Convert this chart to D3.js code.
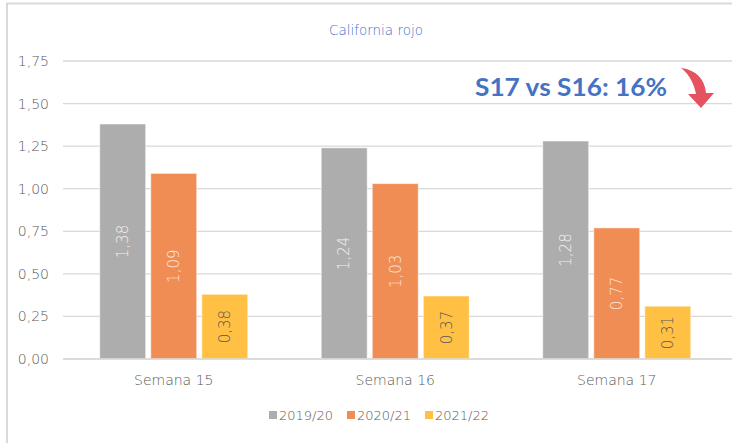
<!DOCTYPE html>
<html>
<head>
<meta charset="utf-8">
<script src="https://cdn.jsdelivr.net/npm/d3@7"></script>
<style>
  body { margin: 0; background: #fff; }
  svg { font-family: 'DejaVu Sans', sans-serif; font-weight: 200; }
</style>
</head>
<body>
<svg width="732" height="443"></svg>
<script>
const weeks = ['Semana 15', 'Semana 16', 'Semana 17'];
const seasons = ['2019/20', '2020/21', '2021/22'];
const values2019 = [1.38, 1.24, 1.28];
const values2020 = [1.09, 1.03, 0.77];
const values2021 = [0.38, 0.37, 0.31];
const yTicks = [0, 0.25, 0.5, 0.75, 1, 1.25, 1.5, 1.75];
const colors = ['#ADADAD', '#F08D55', '#FFC044'];
const labelColors = ['#F2F2F2', '#FBE6DA', '#595959'];

const svg = d3.select('svg');
const width = +svg.attr('width');
const height = +svg.attr('height');

// marco del grafico
svg.append('line').attr('x1', 6).attr('x2', width).attr('y1', 3.5).attr('y2', 3.5)
    .attr('stroke', '#D9D9D9').attr('stroke-width', 2);
svg.append('line').attr('x1', 7).attr('x2', 7).attr('y1', 3).attr('y2', height)
    .attr('stroke', '#D9D9D9').attr('stroke-width', 2);

const margin = {top: 61, right: 5, bottom: 84, left: 63};
const innerHeight = height - margin.top - margin.bottom;

const rows = weeks.map((w, i) => ({
    week: w,
    vals: [values2019[i], values2020[i], values2021[i]]
}));

const yscale = d3.scaleLinear().domain([0, 1.75]).range([innerHeight, 0]);
const xscale = d3.scaleBand().domain(weeks).range([0, 664.5]);
const inner = d3.scaleBand().domain(seasons).range([36.75, 221.5 - 36.75]).paddingInner(0.1);

const g = svg.append('g').attr('transform', `translate(${margin.left}, ${margin.top})`);

// lineas de la cuadricula
g.selectAll('.grid').data(yTicks).enter().append('line')
    .attr('x1', 0).attr('x2', width - margin.left)
    .attr('y1', d => yscale(d)).attr('y2', d => yscale(d))
    .attr('stroke', '#D9D9D9').attr('stroke-width', 1.3);

// eje y
const yAxis = d3.axisLeft(yscale).tickValues(yTicks).tickSize(0).tickPadding(14)
    .tickFormat(d => d3.format('.2f')(d).replace('.', ','));
g.append('g').call(yAxis)
    .call(a => a.select('.domain').remove())
    .selectAll('text').attr('fill', '#595959')
    .style('font-family', "'DejaVu Sans', sans-serif").style('font-weight', 200).style('font-size', '14px');

// eje x
const xAxis = d3.axisBottom(xscale).tickSize(0).tickPadding(16);
g.append('g').attr('transform', `translate(0, ${innerHeight})`).call(xAxis)
    .call(a => a.select('.domain').remove())
    .selectAll('text').attr('fill', '#595959')
    .style('font-family', "'DejaVu Sans', sans-serif").style('font-weight', 200).style('font-size', '14px');

// barras
const groups = g.selectAll('.grp').data(rows).enter().append('g')
    .attr('transform', d => `translate(${xscale(d.week)}, 0)`);

groups.selectAll('rect').data(d => d.vals).enter().append('rect')
    .attr('x', (d, i) => inner(seasons[i]))
    .attr('y', d => yscale(d))
    .attr('width', inner.bandwidth())
    .attr('height', d => innerHeight - yscale(d))
    .attr('fill', (d, i) => colors[i])
    .attr('stroke', '#fff').attr('stroke-opacity', 0.5).attr('stroke-width', 1);

groups.selectAll('.lbl').data(d => d.vals).enter().append('text')
    .attr('transform', (d, i) => {
        const cx = inner(seasons[i]) + inner.bandwidth() / 2;
        const cy = (yscale(d) + innerHeight) / 2;
        return `translate(${cx}, ${cy}) rotate(-90)`;
    })
    .attr('text-anchor', 'middle').attr('dy', '0.35em')
    .attr('fill', (d, i) => labelColors[i])
    .style('font-size', '15px')
    .text(d => d3.format('.2f')(d).replace('.', ','));

// linea base
g.append('line').attr('x1', 0).attr('x2', width - margin.left)
    .attr('y1', innerHeight).attr('y2', innerHeight)
    .attr('stroke', '#D9D9D9').attr('stroke-width', 1.5);

// titulo
svg.append('text').attr('x', 376).attr('y', 35).attr('text-anchor', 'middle')
    .attr('fill', '#3F6FD0').style('font-size', '13.5px').text('California rojo');

// anotacion
svg.append('text').attr('x', 475).attr('y', 96)
    .attr('fill', '#4472C4')
    .style('font-family', 'Lato, sans-serif').style('font-size', '24px').style('font-weight', 'bold')
    .attr('textLength', 192).attr('lengthAdjust', 'spacingAndGlyphs')
    .text('S17 vs S16: 16%');

// flecha curva
svg.append('path')
    .attr('d', 'M681,68 C697,70 705,80 706,93 L714,93 L701,108 L688,94 L696,94 C694,84 690,75 681,68 Z')
    .attr('fill', '#E4535F');

// leyenda
const legend = svg.append('g').attr('transform', 'translate(269, 415)');
const lx = [0, 78, 156];
seasons.forEach((s, i) => {
    const item = legend.append('g').attr('transform', `translate(${lx[i]}, 0)`);
    item.append('rect').attr('x', 0).attr('y', -4).attr('width', 8).attr('height', 8).attr('fill', colors[i]);
    item.append('text').attr('x', 10).attr('dy', '0.35em')
        .attr('fill', '#595959').style('font-size', '13px').text(s);
});
</script>
</body>
</html>
